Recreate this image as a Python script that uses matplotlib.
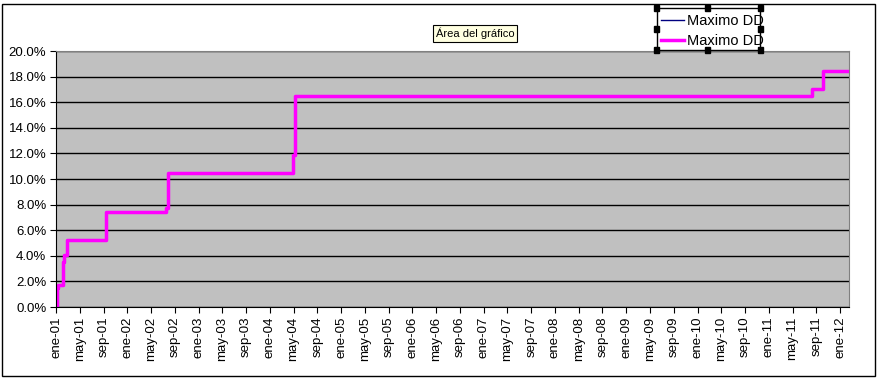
import matplotlib
matplotlib.use('Agg')
import matplotlib.pyplot as plt
from matplotlib.patches import Rectangle

plt.rcParams['font.family'] = ['Liberation Sans', 'DejaVu Sans']

# months since ene-01 where the drawdown changes, and the new max DD level (%)
step_months = [0.0, 0.1, 0.4, 1.1, 1.35, 1.85, 8.5, 18.5, 18.8, 39.95, 40.2, 127.2, 129.1, 133.5]
max_dd = [0.0, 1.5, 1.7, 3.5, 4.1, 5.2, 7.4, 7.7, 10.5, 11.9, 16.5, 17.0, 18.4, 18.4]

tick_labels = []
for yr in range(1, 13):
    for mon in ['ene', 'may', 'sep']:
        if yr == 12 and mon != 'ene':
            continue
        tick_labels.append('%s-%02d' % (mon, yr))
tick_months = [4 * i for i in range(len(tick_labels))]

W, H = 878, 378
fig = plt.figure(figsize=(W / 100, H / 100), dpi=100)
ax = fig.add_axes([56 / W, 1 - 307 / H, (849 - 56) / W, (307 - 51) / H])
ax.set_facecolor('#c0c0c0')

ax.step(step_months, max_dd, where='post', color='#000080', lw=1, label='Maximo DD')
ax.step(step_months, max_dd, where='post', color='#ff00ff', lw=2.5, label='Maximo DD')

ax.set_xlim(0, 133.5)
ax.set_ylim(0, 20)
ax.set_yticks(range(0, 21, 2))
ax.set_yticklabels(['%.1f%%' % v for v in range(0, 21, 2)], fontsize=9.5)
ax.set_xticks(tick_months)
ax.set_xticklabels(tick_labels, rotation=90, fontsize=9.5)
ax.tick_params(direction='out', length=4, color='black', pad=3)
ax.grid(axis='y', color='black', lw=1)
ax.set_axisbelow(True)
for sp in ax.spines.values():
    sp.set_color('#808080')
ax.spines['left'].set_color('black')
ax.spines['bottom'].set_color('black')

fig.legend(loc='upper left', bbox_to_anchor=(661 / W, 1 - 14 / H), fontsize=10.5,
           frameon=False, borderpad=0, handlelength=1.6, handletextpad=0.2,
           labelspacing=0.4, borderaxespad=0)

# legend box with its selection handles
fig.patches.append(Rectangle((657 / W, 1 - 50 / H), 103 / W, 42 / H, transform=fig.transFigure,
                             fill=False, edgecolor='black', lw=1, zorder=9))
for hx in [657, 708, 760]:
    for hy in [8, 29, 50]:
        if hx == 708 and hy == 29:
            continue
        fig.patches.append(Rectangle(((hx - 2.5) / W, 1 - (hy + 2.5) / H), 5 / W, 5 / H,
                                     transform=fig.transFigure, color='black', zorder=10))

fig.text(475 / W, 1 - 33.5 / H, 'Área del gráfico', fontsize=8, ha='center', va='center',
         bbox=dict(boxstyle='square,pad=0.25', facecolor='#ffffe1', edgecolor='black', lw=0.8))

fig.patches.append(Rectangle((2 / W, 2 / H), 873 / W, 372 / H, transform=fig.transFigure,
                             fill=False, edgecolor='black', lw=1))

fig.savefig('out.png', dpi=100)
